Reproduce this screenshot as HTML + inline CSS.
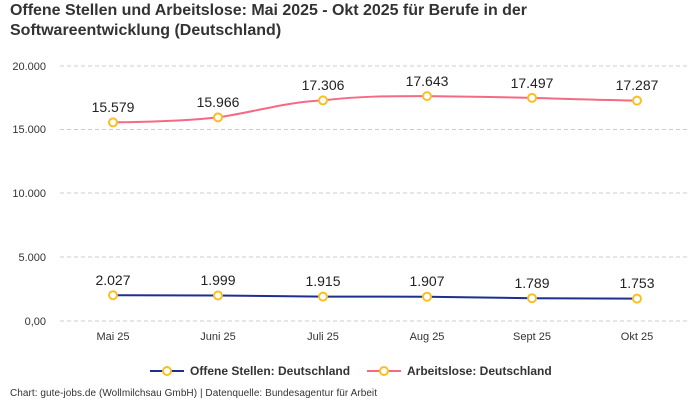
<!DOCTYPE html>
<html><head><meta charset="utf-8"><style>
body{margin:0;background:#fff;width:700px;height:400px;overflow:hidden;font-family:"Liberation Sans",sans-serif}
</style></head><body>
<svg width="700" height="400" xmlns="http://www.w3.org/2000/svg" font-family="Liberation Sans, sans-serif">
<text x="10" y="15" font-size="16" font-weight="bold" fill="#333" textLength="517">Offene Stellen und Arbeitslose: Mai 2025 - Okt 2025 für Berufe in der</text>
<text x="10" y="35" font-size="16" font-weight="bold" fill="#333">Softwareentwicklung (Deutschland)</text>
<g stroke="#ccc" stroke-dasharray="4,3" stroke-width="1">
<line x1="60" x2="690" y1="66" y2="66"/><line x1="60" x2="690" y1="129.5" y2="129.5"/><line x1="60" x2="690" y1="193" y2="193"/><line x1="60" x2="690" y1="257" y2="257"/><line x1="60" x2="690" y1="321" y2="321"/>
</g>
<g font-size="11" fill="#333" text-anchor="end">
<text x="46" y="70">20.000</text><text x="46" y="133">15.000</text><text x="46" y="197">10.000</text><text x="46" y="261">5.000</text><text x="46" y="325">0,00</text>
</g>
<g font-size="11" fill="#333" text-anchor="middle">
<text x="113" y="340">Mai 25</text><text x="218" y="340">Juni 25</text><text x="323" y="340">Juli 25</text><text x="427" y="340">Aug 25</text><text x="532" y="340">Sept 25</text><text x="637" y="340">Okt 25</text>
</g>
<path d="M113,122.4 C150,122 185,121 218,117.4 C255,112 285,102 323,100.4 C360,96 390,96 427,96.1 C465,96.5 495,97 532,97.9 C570,99 600,100 637,100.6" fill="none" stroke="#f46a85" stroke-width="2"/>
<path d="M113,295.2 L218,295.5 L323,296.6 L427,296.7 L532,298.2 L637,298.6" fill="none" stroke="#1f2f8f" stroke-width="2"/>
<g fill="#fff" stroke="#fbbf24" stroke-width="2">
<circle cx="113" cy="122.4" r="4"/><circle cx="218" cy="117.4" r="4"/><circle cx="323" cy="100.4" r="4"/><circle cx="427" cy="96.1" r="4"/><circle cx="532" cy="97.9" r="4"/><circle cx="637" cy="100.6" r="4"/>
<circle cx="113" cy="295.2" r="4"/><circle cx="218" cy="295.5" r="4"/><circle cx="323" cy="296.6" r="4"/><circle cx="427" cy="296.7" r="4"/><circle cx="532" cy="298.2" r="4"/><circle cx="637" cy="298.6" r="4"/>
</g>
<g font-size="14" fill="#222" text-anchor="middle">
<text x="113" y="112">15.579</text><text x="218" y="107">15.966</text><text x="323" y="90">17.306</text><text x="427" y="86">17.643</text><text x="532" y="88">17.497</text><text x="637" y="90">17.287</text>
<text x="113" y="285">2.027</text><text x="218" y="285">1.999</text><text x="323" y="286">1.915</text><text x="427" y="286">1.907</text><text x="532" y="288">1.789</text><text x="637" y="288">1.753</text>
</g>
<line x1="150" x2="184" y1="371" y2="371" stroke="#1f2f8f" stroke-width="2"/>
<circle cx="167" cy="371" r="4" fill="#fff" stroke="#fbbf24" stroke-width="2"/>
<text x="190" y="375" font-size="12" font-weight="bold" fill="#333">Offene Stellen: Deutschland</text>
<line x1="367" x2="401" y1="371" y2="371" stroke="#f46a85" stroke-width="2"/>
<circle cx="384" cy="371" r="4" fill="#fff" stroke="#fbbf24" stroke-width="2"/>
<text x="407" y="375" font-size="12" font-weight="bold" fill="#333">Arbeitslose: Deutschland</text>
<text x="10" y="396" font-size="10" fill="#333" textLength="367">Chart: gute-jobs.de (Wollmilchsau GmbH) | Datenquelle: Bundesagentur für Arbeit</text>
</svg>
</body></html>
